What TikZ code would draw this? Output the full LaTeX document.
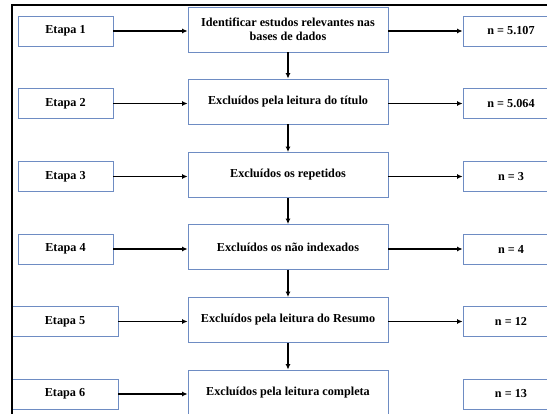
\documentclass[tikz,border=0pt]{standalone}
\usepackage{fontspec}
\setmainfont{Liberation Serif}
\usetikzlibrary{arrows.meta}
\definecolor{boxblue}{RGB}{110,140,195}
\begin{document}
\begin{tikzpicture}[x=1pt,y=-1pt,
  every node/.style={font=\fontsize{12.2}{14.5}\selectfont\bfseries},
  stagebox/.style={draw=boxblue,line width=0.8pt,fill=white,minimum height=30pt,inner sep=0pt},
  midbox/.style={draw=boxblue,line width=0.8pt,fill=white,minimum width=200pt,minimum height=45pt,inner sep=0pt,align=center},
  arr/.style={line width=1.5pt,-{Latex[length=5.5pt,width=5pt]}}]
\useasboundingbox (0,0) rectangle (547,414);
\clip (0,0) rectangle (547,414);
% left boxes
\node[stagebox,minimum width=95pt] (e1) at (65.5,31) {Etapa 1};
\node[stagebox,minimum width=95pt] (e2) at (65.5,103.5) {Etapa 2};
\node[stagebox,minimum width=95pt] (e3) at (65.5,176.5) {Etapa 3};
\node[stagebox,minimum width=95pt] (e4) at (65.5,249) {Etapa 4};
\node[stagebox,minimum width=106pt] (e5) at (65,321.5) {Etapa 5};
\node[stagebox,minimum width=106pt] (e6) at (65,394) {Etapa 6};
% middle boxes
\node[midbox] (m1) at (288,29.5) {Identificar estudos relevantes nas\\bases de dados};
\node[midbox] (m2) at (288,101.5) {Excluídos pela leitura do título};
\node[midbox] (m3) at (288,175) {Excluídos os repetidos};
\node[midbox] (m4) at (288,247) {Excluídos os não indexados};
\node[midbox] (m5) at (288,320) {Excluídos pela leitura do Resumo};
\node[midbox] (m6) at (288,392.5) {Excluídos pela leitura completa};
% right boxes
\node[stagebox,minimum width=96pt] (n1) at (511,31) {n = 5.107};
\node[stagebox,minimum width=96pt] (n2) at (511,103.5) {n = 5.064};
\node[stagebox,minimum width=96pt] (n3) at (511,176.5) {n = 3};
\node[stagebox,minimum width=96pt] (n4) at (511,249) {n = 4};
\node[stagebox,minimum width=96pt] (n5) at (511,321.5) {n = 12};
\node[stagebox,minimum width=96pt] (n6) at (511,394) {n = 13};
% horizontal arrows
\foreach \i in {1,...,6} {
  \draw[arr] (e\i.east) -- (e\i.east -| m\i.west);
}
\foreach \i in {1,...,5} {
  \draw[arr] (m\i.east |- n\i.west) -- (n\i.west);
}
% vertical arrows
\foreach \i/\j in {1/2,2/3,3/4,4/5,5/6} {
  \draw[arr] (m\i.south) -- (m\j.north);
}
% outer frame
\draw[line width=1.8pt] (12,430) -- (12,5) -- (560,5);
\end{tikzpicture}
\end{document}
